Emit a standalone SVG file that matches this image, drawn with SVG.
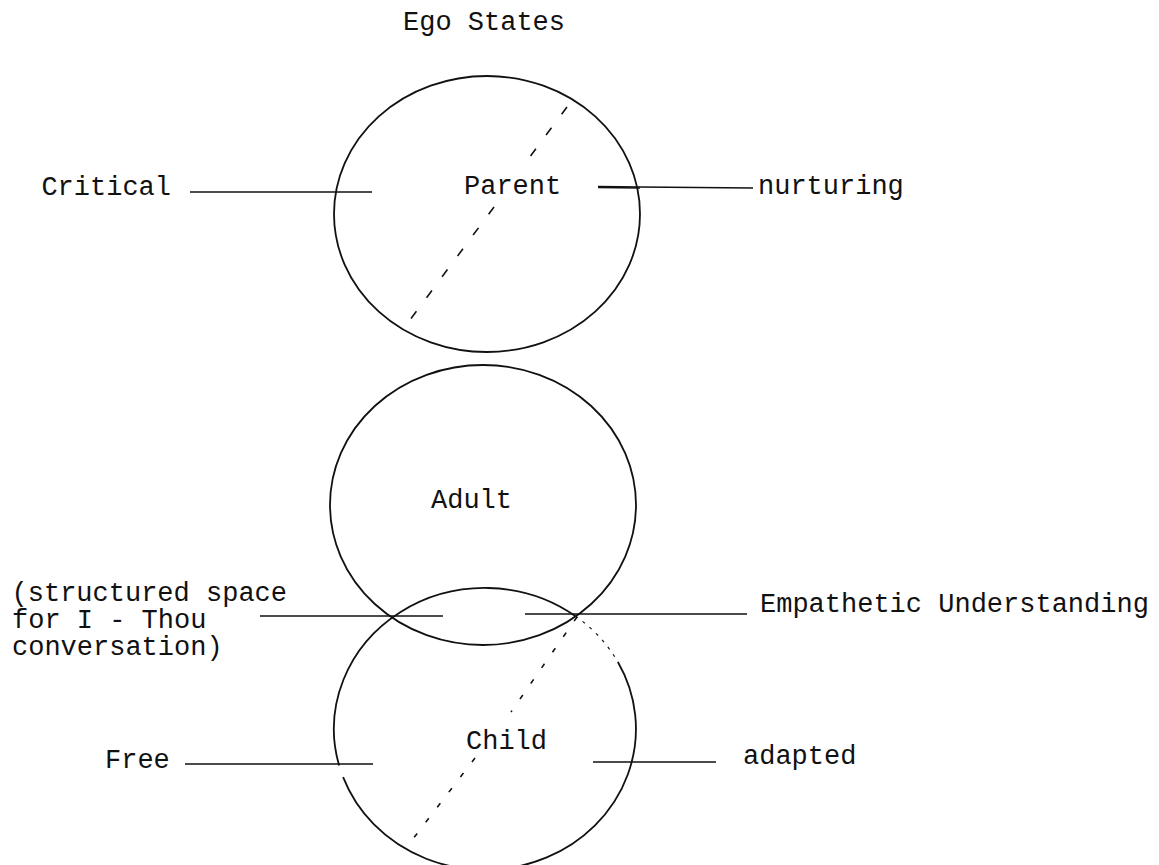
<svg xmlns="http://www.w3.org/2000/svg" width="1159" height="865" viewBox="0 0 1159 865">
<style>
  .t { font-family: "Liberation Mono", "DejaVu Sans Mono", monospace; font-size: 27px; fill: #111; }
  .c { fill: none; stroke: #111; stroke-width: 1.8; }
  .l { stroke: #111; stroke-width: 1.5; fill: none; }
  .d { stroke: #111; stroke-width: 1.6; fill: none; stroke-dasharray: 9 17; }
  .d2 { stroke: #111; stroke-width: 1.6; fill: none; stroke-dasharray: 5 14; }
  .f { fill: none; stroke: #111; stroke-width: 1.2; stroke-dasharray: 3 6; }
</style>
<rect width="1159" height="865" fill="#fff"/>
<text class="t" x="403" y="30">Ego States</text>

<g id="parent">
  <ellipse class="c" cx="487" cy="214" rx="153" ry="138"/>
  <line class="d" x1="567" y1="107" x2="523" y2="166"/>
  <line class="d" x1="494" y1="207" x2="404" y2="328"/>
  <text class="t" x="464" y="194">Parent</text>
</g>

<g id="adult">
  <ellipse class="c" cx="483" cy="505" rx="153" ry="140"/>
  <text class="t" x="431" y="508">Adult</text>
</g>

<g id="child">
  <path class="c" d="M 575.3 616 A 151 141 0 0 0 339.1 765.5"/>
  <path class="c" d="M 343.1 777.2 A 151 141 0 1 0 617.9 662"/>
  <path class="f" d="M 575.3 616 A 151 141 0 0 1 617.9 662"/>
  <line class="d2" x1="577" y1="617" x2="511" y2="712"/>
  <line class="d2" x1="475" y1="758" x2="406" y2="848"/>
  <text class="t" x="466" y="749">Child</text>
</g>

<g id="label-critical"><text class="t" x="171" y="195" text-anchor="end">Critical</text></g>
<g id="label-nurturing"><text class="t" x="758" y="194">nurturing</text></g>
<g id="label-structured">
  <text class="t" x="287" y="601" text-anchor="end">(structured space</text>
  <text class="t" x="12" y="628">for I - Thou</text>
  <text class="t" x="12" y="655">conversation)</text>
</g>
<g id="label-empathetic"><text class="t" x="760" y="612">Empathetic Understanding</text></g>
<g id="label-free"><text class="t" x="105" y="768">Free</text></g>
<g id="label-adapted"><text class="t" x="743" y="764">adapted</text></g>

<g id="connectors">
  <line class="l" x1="190" y1="192" x2="372" y2="192"/>
  <path class="l" d="M 598 186.5 L 640 187 L 753 188"/>
  <line class="l" x1="598" y1="187.5" x2="640" y2="188" stroke-width="2.2"/>
  <line class="l" x1="260" y1="616" x2="443" y2="616"/>
  <line class="l" x1="525" y1="614" x2="747" y2="614"/>
  <line class="l" x1="185" y1="764" x2="373" y2="764"/>
  <line class="l" x1="593" y1="762" x2="716" y2="762"/>
</g>
</svg>
